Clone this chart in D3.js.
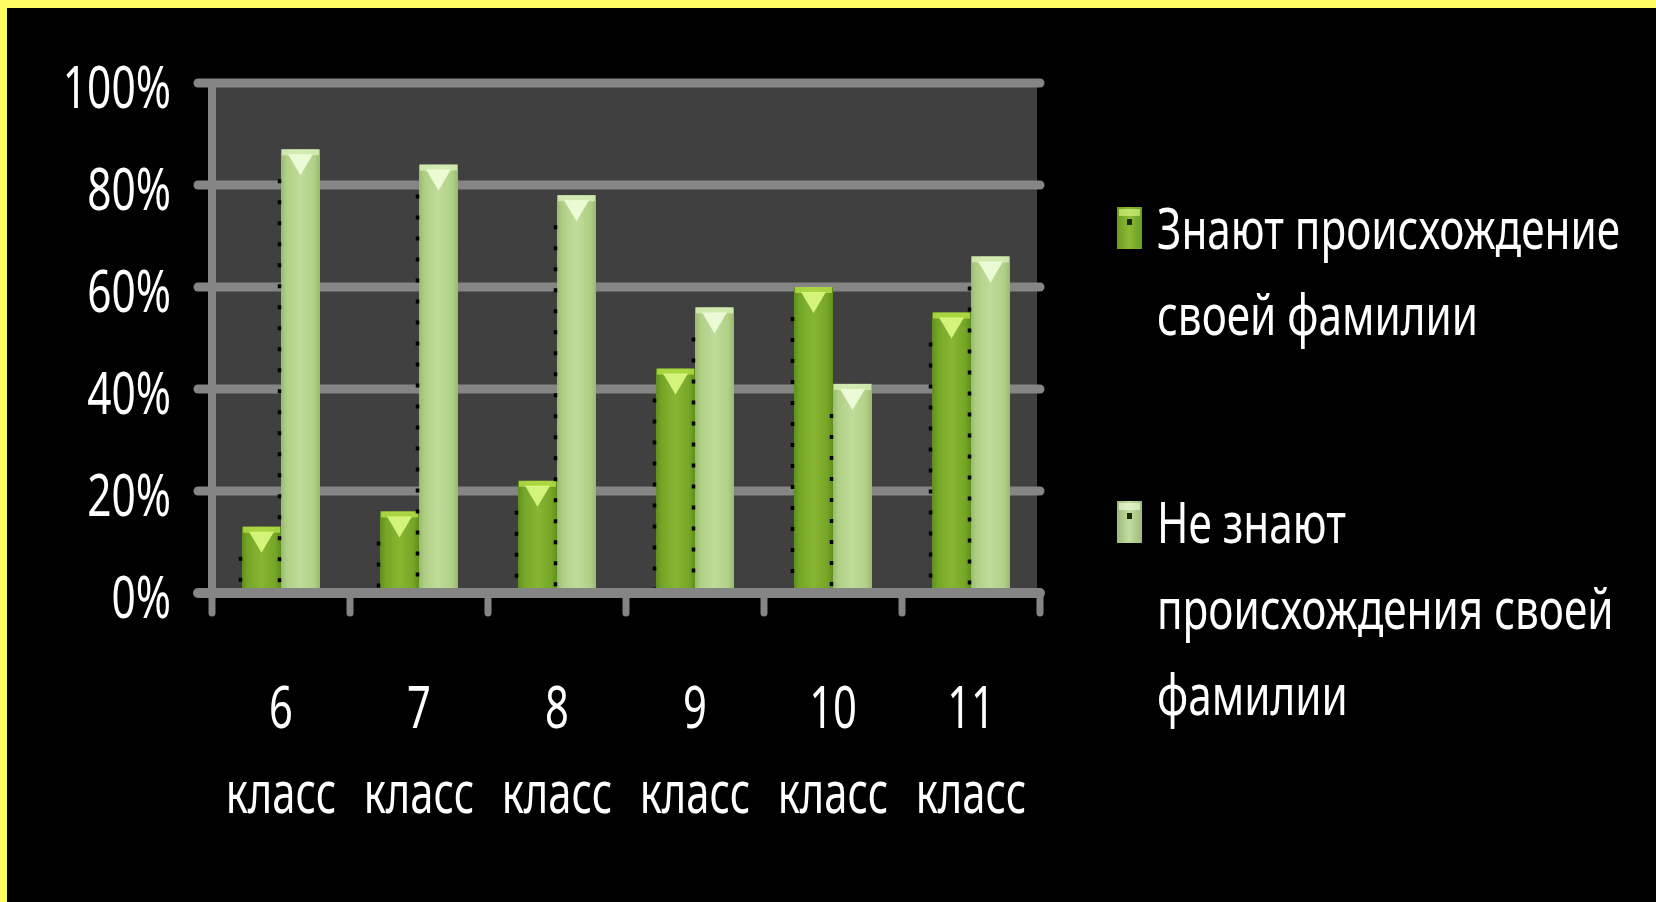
<!DOCTYPE html>
<html>
<head>
<meta charset="utf-8">
<script src="https://cdn.jsdelivr.net/npm/d3@7"></script>
<style>
  html, body { margin: 0; padding: 0; background: #000; }
  svg { display: block; }
  text { font-family: "Noto Sans", "Open Sans", sans-serif; fill: #fff; }
</style>
</head>
<body>
<svg id="chart" width="1656" height="902"></svg>
<script>
// данные диаграммы
const categories = ["6 класс", "7 класс", "8 класс", "9 класс", "10 класс", "11 класс"];
const knowValues = [13, 16, 22, 44, 60, 55];
const dontKnowValues = [87, 84, 78, 56, 41, 66];
const yTicks = [0, 20, 40, 60, 80, 100];
const legendLines = [
  ["Знают происхождение", "своей фамилии"],
  ["Не знают", "происхождения своей", "фамилии"]
];

const svg = d3.select("#chart");

// фон и жёлтая рамка
svg.append("rect").attr("width", 1656).attr("height", 902).attr("fill", "#fefe62");
svg.append("rect").attr("x", 7).attr("y", 8).attr("width", 1649).attr("height", 894).attr("fill", "#000");

const defs = svg.append("defs");
function hGrad(id, stops) {
  const gr = defs.append("linearGradient").attr("id", id)
    .attr("x1", "0").attr("x2", "1").attr("y1", "0").attr("y2", "0");
  stops.forEach(([o, c]) => gr.append("stop").attr("offset", o).attr("stop-color", c));
}
hGrad("gDark", [[0, "#5f8f1c"], [0.15, "#76a626"], [0.5, "#86b632"], [0.85, "#76a626"], [1, "#5f8f1c"]]);
hGrad("gLight", [[0, "#98bb70"], [0.15, "#b0d086"], [0.5, "#c0dc9a"], [0.85, "#b0d086"], [1, "#98bb70"]]);
hGrad("gLegDark", [[0, "#6a9a22"], [0.5, "#8cbc36"], [1, "#6a9a22"]]);
hGrad("gLegLight", [[0, "#9cbc78"], [0.5, "#c4dca4"], [1, "#9cbc78"]]);

const styles = [
  { fill: "url(#gDark)", cap: "#b4e046", tri: "#e2ff88", leg: "url(#gLegDark)" },
  { fill: "url(#gLight)", cap: "#d8efb8", tri: "#f4ffe0", leg: "url(#gLegLight)" }
];

const x = d3.scaleBand().domain(categories).range([212, 1040])
  .paddingInner(0.435).paddingOuter(0.2175);
const xs = d3.scaleBand().domain([0, 1]).range([0, x.bandwidth()]);
const y = d3.scaleLinear().domain([0, 100]).range([593, 83]);

const plot = svg.append("g");

// область построения
plot.append("rect")
  .attr("x", x.range()[0]).attr("y", y(100))
  .attr("width", x.range()[1] - x.range()[0] - 3).attr("height", y(0) - y(100))
  .attr("fill", "#404040");

// сетка
plot.selectAll(".grid").data(yTicks.filter(d => d > 0)).enter().append("line")
  .attr("x1", x.range()[0] - 14).attr("x2", x.range()[1])
  .attr("y1", d => y(d)).attr("y2", d => y(d))
  .attr("stroke", "#858585").attr("stroke-width", 9).attr("stroke-linecap", "round");

// столбики
const groups = plot.selectAll(".cat").data(categories).enter().append("g")
  .attr("transform", d => `translate(${x(d)},0)`);

categories.forEach((c, i) => {
  const g = groups.filter(d => d === c);
  [knowValues[i], dontKnowValues[i]].forEach((v, s) => {
    const bx = xs(s), bw = xs.bandwidth(), top = y(v), st = styles[s];
    g.append("rect").attr("x", bx).attr("y", top).attr("width", bw).attr("height", y(0) - top)
      .attr("fill", st.fill);
    g.append("rect").attr("x", bx + 1).attr("y", top).attr("width", bw - 2).attr("height", 6)
      .attr("fill", st.cap).attr("opacity", 0.8);
    g.append("path")
      .attr("d", `M${bx + 7},${top + 5}L${bx + bw - 7},${top + 5}L${bx + bw / 2},${top + 26}Z`)
      .attr("fill", st.tri).attr("opacity", 0.85);
    g.append("line").attr("x1", bx - 1.5).attr("x2", bx - 1.5)
      .attr("y1", Math.min(top + 30, y(0))).attr("y2", y(0) - 4)
      .attr("stroke", "#000").attr("stroke-width", 3.5).attr("stroke-dasharray", "4 17");
  });
});

// оси
plot.append("line").attr("x1", x.range()[0]).attr("x2", x.range()[0])
  .attr("y1", y(100) - 2).attr("y2", y(0) + 4)
  .attr("stroke", "#858585").attr("stroke-width", 8);
plot.append("line").attr("x1", x.range()[0] - 14).attr("x2", x.range()[1])
  .attr("y1", y(0)).attr("y2", y(0))
  .attr("stroke", "#858585").attr("stroke-width", 10).attr("stroke-linecap", "round");
const bounds = categories.map(c => x(c) - x.step() * x.paddingOuter()).concat([x.range()[1]]);
plot.selectAll(".tick").data(bounds).enter().append("line")
  .attr("x1", d => d).attr("x2", d => d).attr("y1", y(0)).attr("y2", y(0) + 20)
  .attr("stroke", "#858585").attr("stroke-width", 7).attr("stroke-linecap", "round");

// подписи оси Y
const sq = 0.72;
svg.selectAll(".ylab").data(yTicks).enter().append("text")
  .attr("transform", d => `translate(171,${y(d) + 25}) scale(${sq},1)`)
  .attr("text-anchor", "end").attr("font-size", 59)
  .text(d => d + "%");

// подписи оси X
categories.forEach(c => {
  const [num, word] = c.split(" ");
  const cx = x(c) + x.bandwidth() / 2;
  svg.append("text").attr("transform", `translate(${cx},728) scale(${sq},1)`)
    .attr("text-anchor", "middle").attr("font-size", 58).text(num);
  svg.append("text").attr("transform", `translate(${cx},813) scale(${sq},1)`)
    .attr("text-anchor", "middle").attr("font-size", 58).text(word);
});

// легенда
const legendTop = [207, 501];
const lineStep = 86;
legendLines.forEach((lines, s) => {
  const lg = svg.append("g").attr("transform", `translate(1117,${legendTop[s]})`);
  lg.append("rect").attr("width", 25).attr("height", 42).attr("fill", styles[s].leg);
  lg.append("rect").attr("x", 2).attr("y", 2).attr("width", 21).attr("height", 7)
    .attr("fill", styles[s].tri).attr("opacity", 0.6);
  lg.append("rect").attr("x", 10).attr("y", 12).attr("width", 5).attr("height", 6).attr("fill", "#1a2a08");
  lines.forEach((t, k) => {
    lg.append("text")
      .attr("transform", `translate(40,${42 + k * lineStep}) scale(0.755,1)`)
      .attr("font-size", 56).text(t);
  });
});
</script>
</body>
</html>
